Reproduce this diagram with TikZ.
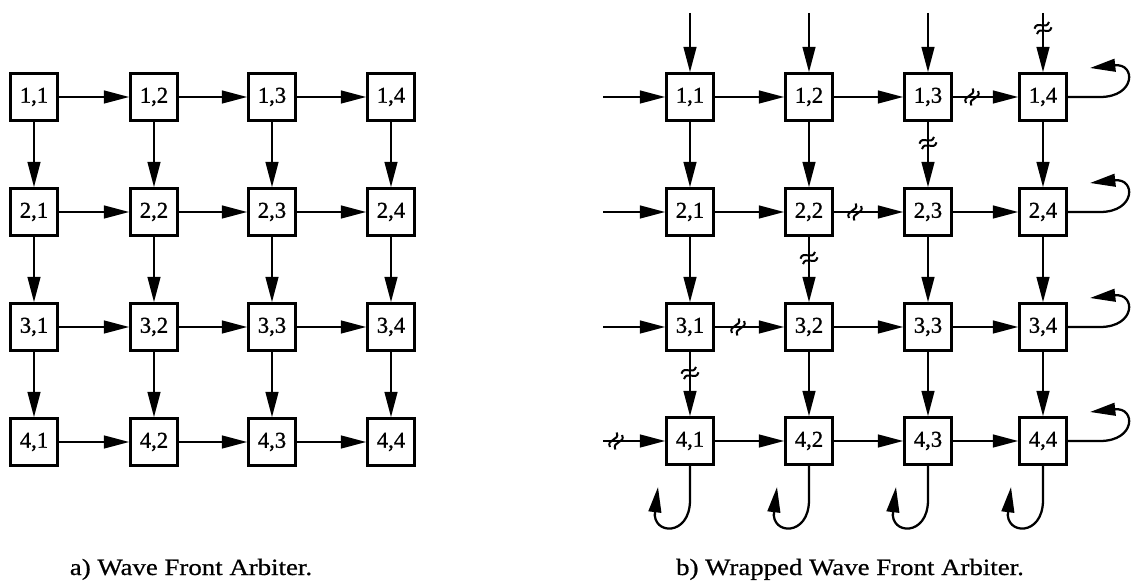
\documentclass[tikz,border=0pt]{standalone}
\usepackage{fontspec}
\setmainfont{Liberation Serif}
\newfontfamily\capfont[FakeStretch=1.15,FakeBold=0.7]{Liberation Serif}
\newfontfamily\lblfont[FakeBold=0.9]{Liberation Serif}
\usetikzlibrary{arrows.meta}
\tikzset{
  cell/.style={draw, line width=2.1pt, minimum size=35pt, inner sep=0pt, fill=white,
    font=\lblfont\fontsize{17}{18}\selectfont},
  conn/.style={line width=1.7pt, -{Triangle[length=19pt,width=9.5pt]}},
  caption/.style={font=\capfont\fontsize{17.5}{20}\selectfont, anchor=base},
  brkmark/.pic={
    \draw[line width=1.5pt] (-8,-3) .. controls (-2,-10) and (2,4) .. (8,-3);
    \draw[line width=1.5pt] (-8,3) .. controls (-2,-4) and (2,10) .. (8,3);
  }
}
\begin{document}
\begin{tikzpicture}[x=0.75pt,y=-0.75pt]
\useasboundingbox (0,0) rectangle (1132,584);
% left grid
\foreach \r/\y in {1/97,2/212,3/327,4/442} {
  \foreach \c/\x in {1/34,2/154,3/272,4/391} {
    \node[cell] (L\r\c) at (\x,\y) {\r,\c};
  }
}
\foreach \r in {1,...,4} {
  \foreach \c/\n in {1/2,2/3,3/4} {
    \draw[conn] (L\r\c) -- (L\r\n);
    \draw[conn] (L\c\r) -- (L\n\r);
  }
}
% right grid
\foreach \r/\y in {1/97,2/212,3/327,4/441} {
  \foreach \c/\x in {1/690,2/809,3/928,4/1043} {
    \node[cell] (R\r\c) at (\x,\y) {\r,\c};
  }
}
\foreach \r in {1,...,4} {
  \foreach \c/\n in {1/2,2/3,3/4} {
    \draw[conn] (R\r\c) -- (R\r\n);
    \draw[conn] (R\c\r) -- (R\n\r);
  }
}
% inputs
\foreach \c/\x in {1/690,2/809,3/928,4/1043} {
  \coordinate (T\c) at (\x,13);
  \draw[conn] (T\c) -- (R1\c);
}
\foreach \r/\y in {1/97,2/212,3/327,4/441} {
  \coordinate (S\r) at (603,\y);
  \draw[conn] (S\r) -- (R\r1);
}
% wrap loops right
\foreach \r/\y in {1/97,2/212,3/327,4/441} {
  \draw[conn] (R\r4.east) -- (1100,\y) .. controls (1136,\y) and (1136,{\y-34}) .. (1090,{\y-29});
}
% wrap loops bottom
\foreach \c/\x in {1/690,2/809,3/928,4/1043} {
  \draw[conn] (R4\c.south) -- (\x,500) .. controls (\x,537) and ({\x-38},535) .. ({\x-32},487);
}
% break marks
\pic[rotate=65] at (972,97) {brkmark};
\pic[rotate=65] at (855,212) {brkmark};
\pic[rotate=65] at (738,327) {brkmark};
\pic[rotate=65] at (616,441) {brkmark};
\pic[rotate=25] at (1043,28) {brkmark};
\pic[rotate=25] at (928,143) {brkmark};
\pic[rotate=25] at (809,258) {brkmark};
\pic[rotate=25] at (690,373) {brkmark};
% captions
\node[caption] (capa) at (191,575) {a) Wave Front Arbiter.};
\node[caption] (capb) at (850,575) {b) Wrapped Wave Front Arbiter.};
\end{tikzpicture}
\end{document}
